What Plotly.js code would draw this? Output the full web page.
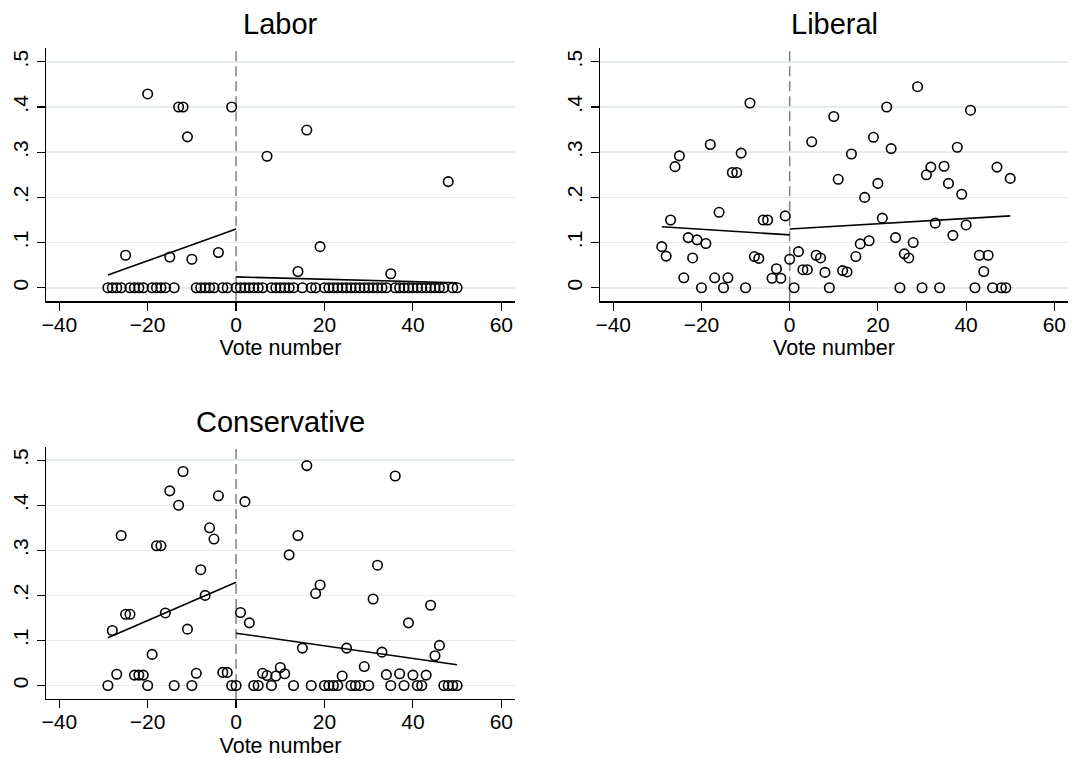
<!DOCTYPE html>
<html>
<head>
<meta charset="utf-8">
<script src="https://cdn.plot.ly/plotly-3.0.1.min.js"></script>
<style>
html,body{margin:0;padding:0;background:#fff;}
#chart{width:1072px;height:758px;}
</style>
</head>
<body>
<div id="chart"></div>
<script>
// ---- data ----
const voteNumber = [-29,-28,-27,-26,-25,-24,-23,-22,-21,-20,-19,-18,-17,-16,-15,-14,-13,-12,-11,-10,-9,-8,-7,-6,-5,-4,-3,-2,-1,
  0,1,2,3,4,5,6,7,8,9,10,11,12,13,14,15,16,17,18,19,20,21,22,23,24,25,26,27,28,29,30,31,32,33,34,35,36,37,38,39,40,41,42,43,44,45,46,47,48,49,50];

const laborShare = [0,0,0,0,0.072,0,0,0,0,0.429,0,0,0,0,0.068,0,0.400,0.400,0.334,0.063,0,0,0,0,0,0.078,0,0,0.400,
  0,0,0,0,0,0,0,0.291,0,0,0,0,0,0,0.036,0,0.349,0,0,0.091,0,0,0,0,0,0,0,0,0,0,0,0,0,0,0,0.031,0,0,0,0,0,0,0,0,0,0,0,0,0.235,0,0];

const liberalShare = [0.091,0.070,0.150,0.268,0.292,0.022,0.111,0.066,0.106,0,0.098,0.317,0.022,0.167,0,0.022,0.255,0.255,0.298,0,0.409,0.069,0.065,0.150,0.150,0.021,0.042,0.021,0.159,
  0.063,0,0.080,0.040,0.040,0.323,0.072,0.066,0.034,0,0.379,0.240,0.038,0.035,0.296,0.069,0.097,0.200,0.104,0.333,0.231,0.154,0.400,0.308,0.111,0,0.075,0.066,0.100,0.445,0,0.250,0.267,0.143,0,0.269,0.231,0.116,0.311,0.207,0.139,0.393,0,0.072,0.036,0.072,0,0.267,0,0,0.242];

const conservativeShare = [0,0.122,0.025,0.333,0.158,0.158,0.023,0.023,0.023,0,0.069,0.310,0.310,0.161,0.432,0,0.400,0.475,0.125,0,0.027,0.257,0.200,0.350,0.325,0.421,0.029,0.029,0,
  0,0.162,0.408,0.139,0,0,0.027,0.022,0,0.021,0.040,0.026,0.290,0,0.333,0.083,0.488,0,0.204,0.223,0,0,0,0,0.021,0.083,0,0,0,0.042,0,0.192,0.267,0.074,0.024,0,0.465,0.026,0,0.139,0.023,0,0,0.023,0.178,0.066,0.089,0,0,0,0];

// fitted lines (endpoints)
const fitLeftX = [-29, 0];
const fitRightX = [0, 50];
const laborFitLeft = [0.028, 0.130];
const laborFitRight = [0.024, 0.011];
const liberalFitLeft = [0.135, 0.117];
const liberalFitRight = [0.130, 0.159];
const conservativeFitLeft = [0.106, 0.229];
const conservativeFitRight = [0.116, 0.046];

const panelTitles = ["Labor", "Liberal", "Conservative"];
const xTickVals = [-40, -20, 0, 20, 40, 60];
const xTickText = ["\u221240", "\u221220", "0", "20", "40", "60"];
const yTickVals = [0, 0.1, 0.2, 0.3, 0.4, 0.5];
const yTickText = ["0", ".1", ".2", ".3", ".4", ".5"];
const cutoff = [0, 0];

// ---- drawing ----
const FONT = "Liberation Sans, Arial, Helvetica, sans-serif";
const panels = [
  {share: laborShare, fl: laborFitLeft, fr: laborFitRight, xa: "x", ya: "y"},
  {share: liberalShare, fl: liberalFitLeft, fr: liberalFitRight, xa: "x2", ya: "y2"},
  {share: conservativeShare, fl: conservativeFitLeft, fr: conservativeFitRight, xa: "x3", ya: "y3"}
];

const traces = [];
panels.forEach(p => {
  // vertical dashed cutoff line, drawn first so it sits beneath the markers
  traces.push({
    x: cutoff, y: [-0.030, 0.530], xaxis: p.xa, yaxis: p.ya,
    type: "scatter", mode: "lines", cliponaxis: true,
    line: {color: "#808080", width: 1.5, dash: "10px,5px"},
    hoverinfo: "skip", showlegend: false
  });
  traces.push({
    x: voteNumber, y: p.share, xaxis: p.xa, yaxis: p.ya,
    type: "scatter", mode: "markers",
    marker: {symbol: "circle-open", size: 9.5, color: "#000", line: {width: 1.6, color: "#000"}},
    hoverinfo: "x+y", showlegend: false
  });
  traces.push({
    x: fitLeftX, y: p.fl, xaxis: p.xa, yaxis: p.ya,
    type: "scatter", mode: "lines", line: {color: "#000", width: 1.6},
    showlegend: false
  });
  traces.push({
    x: fitRightX, y: p.fr, xaxis: p.xa, yaxis: p.ya,
    type: "scatter", mode: "lines", line: {color: "#000", width: 1.6},
    showlegend: false
  });
});

const xRange = [-43, 63.1];
const yRange = [-0.030, 0.530];
function xAxis(domain, anchor) {
  return {
    domain: domain, anchor: anchor, range: xRange,
    tickvals: xTickVals, ticktext: xTickText,
    showgrid: false, zeroline: false,
    showline: true, linecolor: "#000", linewidth: 1.2,
    ticks: "outside", ticklen: 8, tickwidth: 1.2, tickcolor: "#000",
    ticklabelstandoff: -4,
    tickfont: {family: FONT, size: 21, color: "#000"},
    title: {text: "Vote number", font: {family: FONT, size: 21.5, color: "#000"}, standoff: 5},
    fixedrange: true
  };
}
function yAxis(domain, anchor) {
  return {
    domain: domain, anchor: anchor, range: yRange,
    tickvals: yTickVals, ticktext: yTickText, tickangle: -90,
    showgrid: true, gridcolor: "#e5ecf0", gridwidth: 1.5,
    zeroline: false,
    showline: true, linecolor: "#000", linewidth: 1.2,
    ticks: "outside", ticklen: 8, tickwidth: 1.2, tickcolor: "#000",
    tickfont: {family: FONT, size: 21, color: "#000"},
    fixedrange: true
  };
}

const W = 1072, H = 758;
const colL = [46 / W, 515 / W];
const colR = [600 / W, 1068 / W];
const rowT = [1 - 301.3 / H, 1 - 48.3 / H];
const rowB = [1 - 699 / H, 1 - 446.7 / H];

const layout = {
  width: W, height: H,
  margin: {l: 0, r: 0, t: 0, b: 0},
  paper_bgcolor: "#fff", plot_bgcolor: "#fff",
  font: {family: FONT, color: "#000"},
  xaxis: xAxis(colL, "y"), yaxis: yAxis(rowT, "x"),
  xaxis2: xAxis(colR, "y2"), yaxis2: yAxis(rowT, "x2"),
  xaxis3: xAxis(colL, "y3"), yaxis3: yAxis(rowB, "x3"),
  annotations: [
    {text: panelTitles[0], xref: "paper", yref: "paper", x: (colL[0] + colL[1]) / 2, y: 1 - 24 / H,
     xanchor: "center", yanchor: "middle", showarrow: false, font: {family: FONT, size: 29, color: "#000"}},
    {text: panelTitles[1], xref: "paper", yref: "paper", x: (colR[0] + colR[1]) / 2, y: 1 - 24 / H,
     xanchor: "center", yanchor: "middle", showarrow: false, font: {family: FONT, size: 29, color: "#000"}},
    {text: panelTitles[2], xref: "paper", yref: "paper", x: (colL[0] + colL[1]) / 2, y: 1 - 422.5 / H,
     xanchor: "center", yanchor: "middle", showarrow: false, font: {family: FONT, size: 29, color: "#000"}}
  ]
};

Plotly.newPlot("chart", traces, layout, {displayModeBar: false, staticPlot: true});
</script>
</body>
</html>
